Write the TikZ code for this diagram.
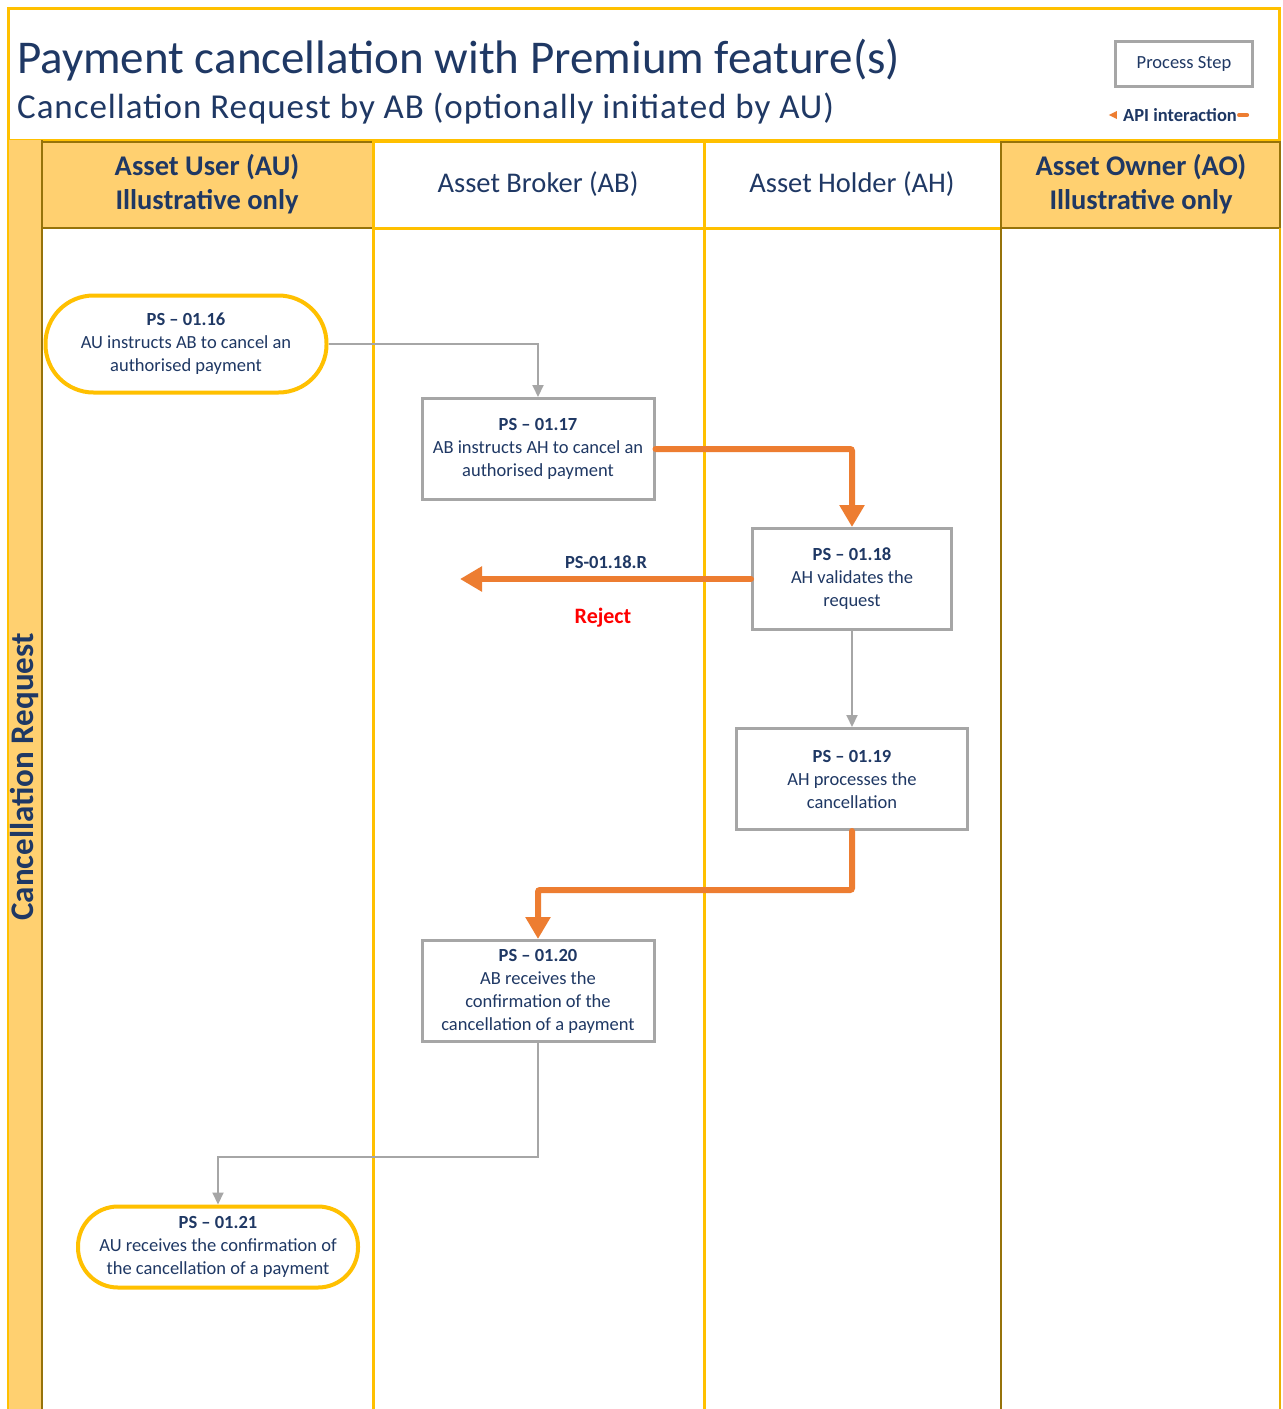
\documentclass[tikz,border=0pt]{standalone}
\usepackage{fontspec}
\setmainfont{Carlito}
\usetikzlibrary{arrows.meta}
\definecolor{txt}{RGB}{31,56,100}
\definecolor{yel}{RGB}{255,192,0}
\definecolor{lanefill}{RGB}{255,208,112}
\definecolor{gold}{RGB}{150,115,10}
\definecolor{org}{RGB}{237,125,49}
\definecolor{gry}{RGB}{166,166,166}
\tikzset{
  stepbox/.style={draw=gry, line width=3pt, fill=white, align=center, text=txt,
    font=\fontsize{18.5}{23}\selectfont, inner sep=0pt, minimum height=101pt},
  termbox/.style={draw=yel, line width=4pt, fill=white, align=center, text=txt,
    font=\fontsize{18.5}{23}\selectfont, inner sep=0pt},
  gline/.style={draw=gry, line width=2pt, -{Triangle[width=11pt,length=12pt]}},
  oline/.style={draw=org, line width=6pt, line cap=round, rounded corners=2pt, -{Triangle[width=24pt,length=22pt]}},
  hdr/.style={text=txt, align=center, inner sep=0pt},
}
\begin{document}
\begin{tikzpicture}[x=1pt,y=-1pt]
\useasboundingbox (0,0) rectangle (1283,1409);
\fill[white] (0,0) rectangle (1283,1409);
% title frame
\draw[yel, line width=3pt] (8,8) rectangle (1279,140);
% lane structure
\fill[lanefill] (8,140) rectangle (42,1412);
\draw[yel, line width=2pt] (8,140) -- (8,1412);
\draw[gold, line width=2.5pt] (42,140) -- (42,1412);
\draw[gold, fill=lanefill, line width=2.5pt] (42,142) rectangle (373,228);
\draw[yel, line width=3pt] (373,141) -- (1001,141);
\draw[yel, line width=3pt] (373,228) -- (1001,228);
\draw[yel, line width=3pt] (373,140) -- (373,1412);
\draw[yel, line width=3pt] (704,140) -- (704,1412);
\draw[gold, fill=lanefill, line width=2.5pt] (1001,142) rectangle (1280,228);
\draw[gold, line width=2.5pt] (1001,228) -- (1001,1412);
\draw[yel!80!gold, line width=2.5pt] (1280,228) -- (1280,1412);
% titles
\node[anchor=base west, inner sep=0pt, text=txt, font=\fontsize{47}{47}\selectfont] (title) at (17,73) {Payment cancellation with Premium feature(s)};
\node[anchor=base west, inner sep=0pt, text=txt, font=\fontsize{35}{35}\selectfont\addfontfeature{LetterSpace=2.7}] (subtitle) at (17,118) {Cancellation Request by AB (optionally initiated by AU)};
% legend
\node[draw=gry, line width=3pt, minimum width=137pt, minimum height=45pt, text=txt, font=\fontsize{18.5}{18.5}\selectfont] (legend) at (1184,64) {Process Step};
\node[text=txt, inner sep=0pt, font=\bfseries\fontsize{18.5}{18.5}\selectfont] (api) at (1180,115) {API interaction};
\fill[org] ([xshift=-14pt]api.west) -- ([xshift=-6pt,yshift=4pt]api.west) -- ([xshift=-6pt,yshift=-4pt]api.west) -- cycle;
\draw[org, line width=4pt, line cap=round] ([xshift=2pt]api.east) -- ([xshift=10pt]api.east);
% headers
\node[hdr, font=\bfseries\fontsize{28.5}{34}\selectfont] (hAU) at (207,184) {Asset User (AU)\\Illustrative only};
\node[hdr, font=\fontsize{28.5}{34}\selectfont] (hAB) at (538,184) {Asset Broker (AB)};
\node[hdr, font=\fontsize{28.5}{34}\selectfont] (hAH) at (852,184) {Asset Holder (AH)};
\node[hdr, font=\bfseries\fontsize{28.5}{34}\selectfont] (hAO) at (1141,184) {Asset Owner (AO)\\Illustrative only};
\node[hdr, rotate=90, font=\bfseries\fontsize{33}{33}\selectfont] (lane) at (24,777) {Cancellation Request};
% steps
\node[termbox, minimum width=281pt, minimum height=97pt, rounded corners=48pt] (n16) at (186,344)
  {{\bfseries PS – 01.16}\\AU instructs AB to cancel an\\authorised payment};
\node[stepbox, minimum width=232pt] (n17) at (538,449)
  {{\bfseries PS – 01.17}\\AB instructs AH to cancel an\\authorised payment};
\node[stepbox, minimum width=199pt] (n18) at (852,579)
  {{\bfseries PS – 01.18}\\AH validates the\\request};
\node[stepbox, minimum width=231pt] (n19) at (852,779)
  {{\bfseries PS – 01.19}\\AH processes the\\cancellation};
\node[stepbox, minimum width=232pt] (n20) at (538,991)
  {{\bfseries PS – 01.20}\\AB receives the\\confirmation of the\\cancellation of a payment};
\node[termbox, minimum width=280pt, minimum height=81pt, rounded corners=40pt] (n21) at (218,1247)
  {{\bfseries PS – 01.21}\\AU receives the confirmation of\\the cancellation of a payment};
% connectors
\coordinate (rejend) at (460,579);
\coordinate (b1) at (852,890);
\coordinate (b2) at (538,1157);
\draw[gline] (n16.east) -| (n17.north);
\draw[oline] (n17.east) -| (n18.north);
\draw[oline] (n18.west) -- (rejend);
\node[text=txt, inner sep=0pt, font=\bfseries\fontsize{18.5}{18.5}\selectfont] (rlab) at (606,562) {PS-01.18.R};
\node[text=red, inner sep=0pt, font=\bfseries\fontsize{22}{22}\selectfont] (rej) at (603,618) {Reject};
\draw[gline] (n18.south) -- (n19.north);
\draw[oline] (n19.south) -- (b1) -| (n20.north);
\draw[gline] (n20.south) -- (b2) -| (n21.north);
\end{tikzpicture}
\end{document}
